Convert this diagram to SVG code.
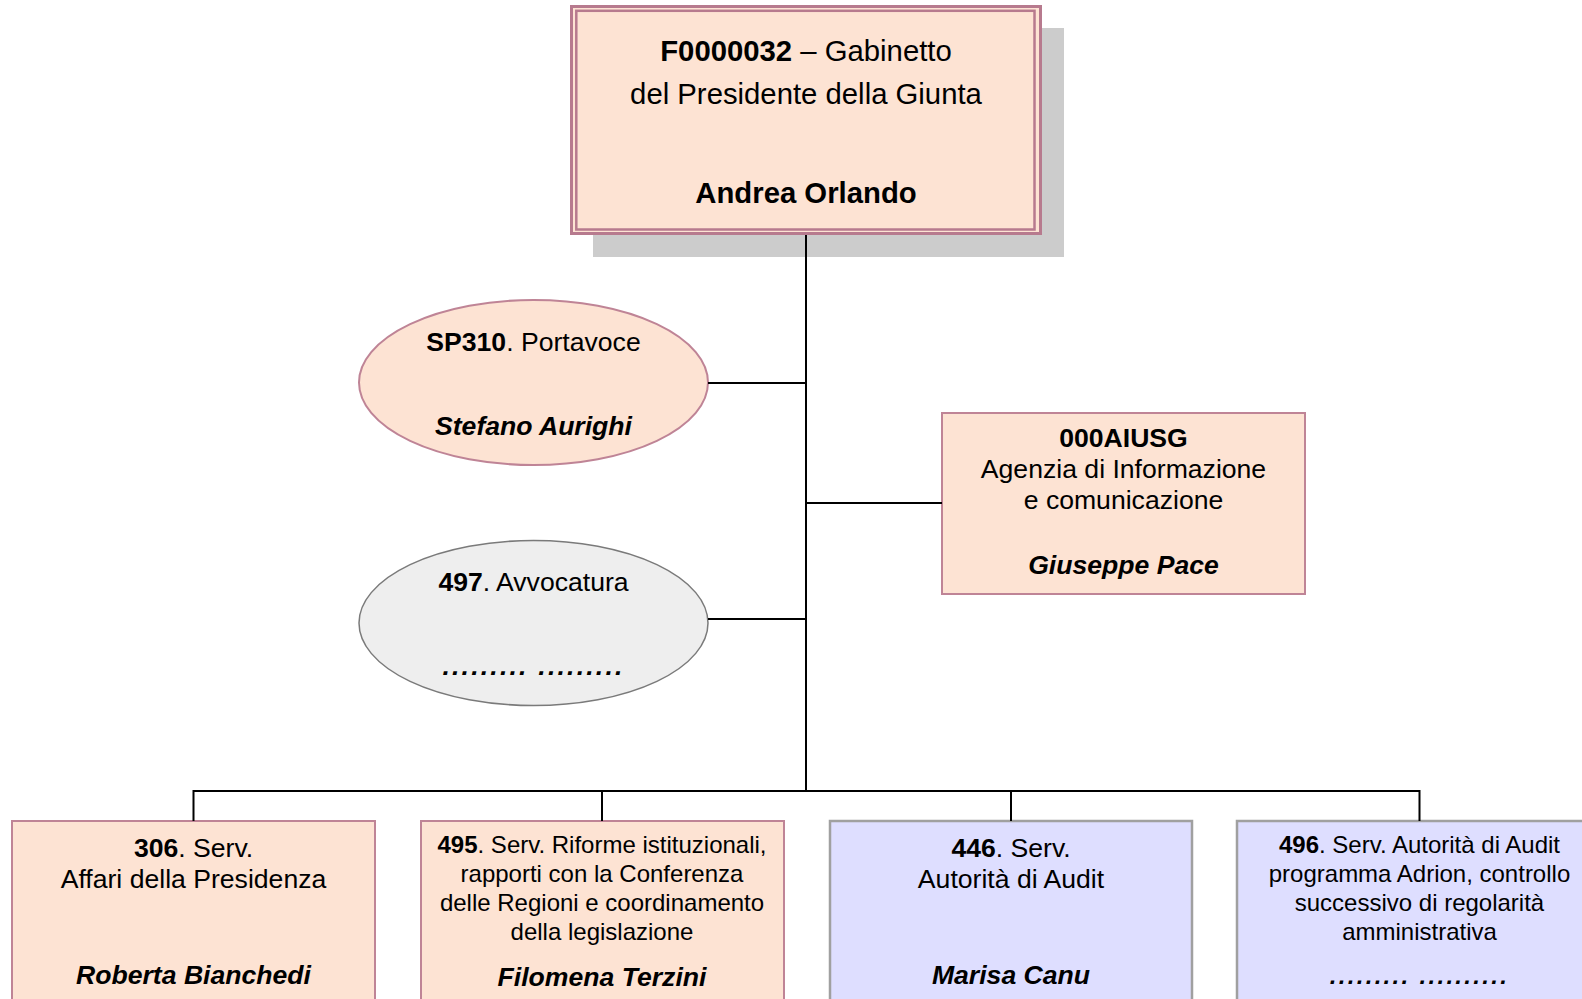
<svg xmlns="http://www.w3.org/2000/svg" width="1582" height="999" viewBox="0 0 1582 999">
<style>
text{font-family:"Liberation Sans",Arial,sans-serif;fill:#000;text-anchor:middle}
.t29{font-size:29.3px}
.t26{font-size:26.6px}
.t24{font-size:24px}
.b{font-weight:bold}
.bi{font-weight:bold;font-style:italic}
.peach{fill:#fde3d3;stroke:#bf8496;stroke-width:2}
.blue{fill:#dedeff;stroke:#a0a0a0;stroke-width:2.5}
.grey{fill:#eeeeee;stroke:#7a7a7a;stroke-width:1.5}
.conn{stroke:#000;stroke-width:2;fill:none}
</style>
<g id="node-F0000032">
<rect x="593" y="28" width="471" height="229" fill="#cccccc"/>
<rect x="571.5" y="6.5" width="469" height="227" fill="#fde3d3" stroke="#b77a8e" stroke-width="3"/>
<rect x="576.3" y="10.8" width="458.2" height="218.7" fill="#fde3d3" stroke="#b77a8e" stroke-width="2.5"/>
<text class="t29" x="806" y="61"><tspan class="b">F0000032</tspan> – Gabinetto</text>
<text class="t29" x="806" y="104">del Presidente della Giunta</text>
<text class="t29 b" x="806" y="203">Andrea Orlando</text>
</g>
<g id="node-SP310">
<ellipse class="peach" cx="533.5" cy="382.5" rx="174.5" ry="82.5" stroke-width="1.5"/>
<text class="t26" x="533.5" y="351"><tspan class="b">SP310</tspan>. Portavoce</text>
<text class="t26 bi" x="533.5" y="435">Stefano Aurighi</text>
</g>
<g id="node-497">
<ellipse class="grey" cx="533.5" cy="623" rx="174.5" ry="82.5"/>
<text class="t26" x="533.5" y="591"><tspan class="b">497</tspan>. Avvocatura</text>
<text class="t26 bi" x="533.5" y="675" letter-spacing="2.2">......... .........</text>
</g>
<g id="node-000AIUSG">
<rect class="peach" x="942" y="413" width="363" height="181"/>
<text class="t26 b" x="1123.5" y="447">000AIUSG</text>
<text class="t26" x="1123.5" y="478">Agenzia di Informazione</text>
<text class="t26" x="1123.5" y="509">e comunicazione</text>
<text class="t26 bi" x="1123.5" y="574">Giuseppe Pace</text>
</g>
<g id="node-306">
<rect class="peach" x="12" y="821" width="363" height="200"/>
<text class="t26" x="193.5" y="857"><tspan class="b">306</tspan>. Serv.</text>
<text class="t26" x="193.5" y="888">Affari della Presidenza</text>
<text class="t26 bi" x="193.5" y="984">Roberta Bianchedi</text>
</g>
<g id="node-495">
<rect class="peach" x="421" y="821" width="363" height="200"/>
<text class="t24" x="602" y="853"><tspan class="b">495</tspan>. Serv. Riforme istituzionali,</text>
<text class="t24" x="602" y="882">rapporti con la Conferenza</text>
<text class="t24" x="602" y="911">delle Regioni e coordinamento</text>
<text class="t24" x="602" y="940">della legislazione</text>
<text class="t26 bi" x="602" y="986">Filomena Terzini</text>
</g>
<g id="node-446">
<rect class="blue" x="830" y="821" width="362" height="200"/>
<text class="t26" x="1011" y="857"><tspan class="b">446</tspan>. Serv.</text>
<text class="t26" x="1011" y="888">Autorità di Audit</text>
<text class="t26 bi" x="1011" y="984">Marisa Canu</text>
</g>
<g id="node-496">
<rect class="blue" x="1237" y="821" width="365" height="200"/>
<text class="t24" x="1419.5" y="853"><tspan class="b">496</tspan>. Serv. Autorità di Audit</text>
<text class="t24" x="1419.5" y="882">programma Adrion, controllo</text>
<text class="t24" x="1419.5" y="911">successivo di regolarità</text>
<text class="t24" x="1419.5" y="940">amministrativa</text>
<text class="t24 bi" x="1419.5" y="984" letter-spacing="2.3">.........  ..........</text>
</g>
<g id="connectors">
<path class="conn" d="M806 235V791M708 383H806M806 503H942M708 619H806M193.5 791H1419.5M193.5 790V821M602 790V821M1011 790V821M1419.5 790V821"/>
</g>
</svg>
